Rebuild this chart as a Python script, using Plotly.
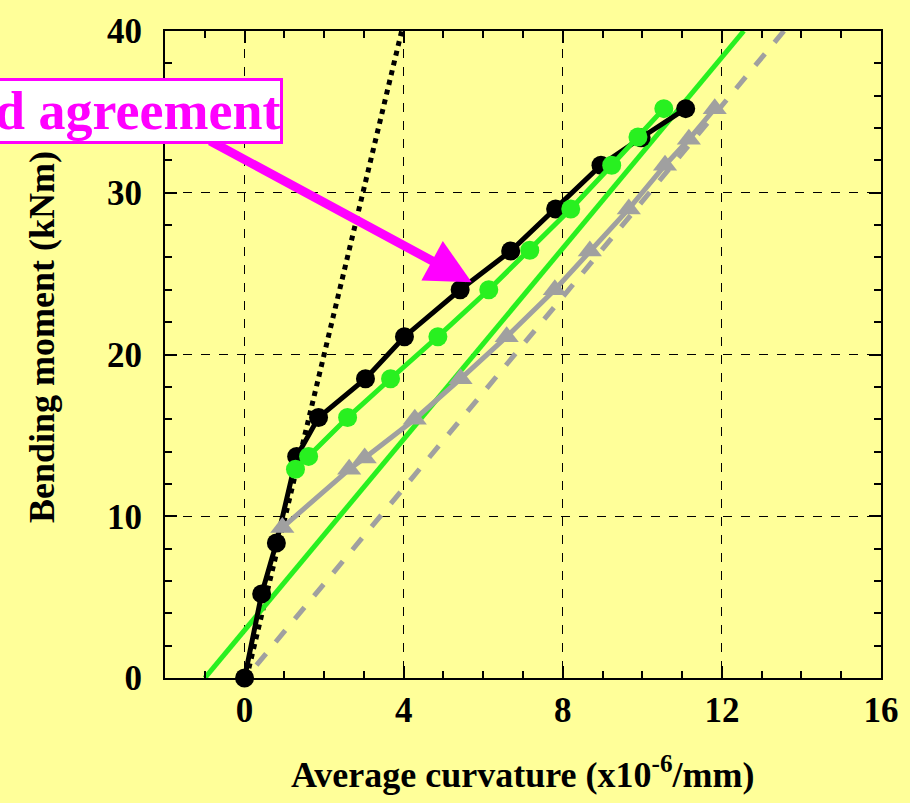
import plotly.graph_objects as go

# Data
black_x = [0, 0.43, 0.8, 1.31, 1.86, 3.04, 4.02, 5.42, 6.69, 7.82, 8.96, 9.97, 11.09]
black_y = [0, 5.2, 8.35, 13.7, 16.1, 18.5, 21.1, 24.0, 26.4, 29.0, 31.7, 33.4, 35.2]

green_x = [1.28, 1.61, 2.59, 3.67, 4.86, 6.14, 7.17, 8.2, 9.23, 9.89, 10.54]
green_y = [12.9, 13.7, 16.1, 18.5, 21.1, 24.0, 26.45, 29.0, 31.7, 33.45, 35.2]

gray_x = [0.95, 2.63, 3.02, 4.28, 5.43, 6.59, 7.8, 8.68, 9.66, 10.57, 11.17, 11.82]
gray_y = [9.3, 12.9, 13.6, 16.0, 18.5, 21.1, 24.0, 26.4, 29.0, 31.7, 33.3, 35.2]

green_fit_x = [-1.0, 12.55]
green_fit_y = [0, 40]
gray_fit_x = [0.3, 13.56]
gray_fit_y = [0.8, 40]
dotted_x = [0.05, 3.95]
dotted_y = [0, 40]

x_ticks = [0, 4, 8, 12, 16]
y_ticks = [0, 10, 20, 30, 40]

BG = "#FFFF99"
GREEN = "#28F020"
GRAY = "#A0A0A0"
FONT = "Liberation Serif"

fig = go.Figure()
fig.add_trace(go.Scatter(x=dotted_x, y=dotted_y, mode="lines",
                         line=dict(color="black", width=5, dash="dot")))
fig.add_trace(go.Scatter(x=green_fit_x, y=green_fit_y, mode="lines",
                         line=dict(color=GREEN, width=5)))
fig.add_trace(go.Scatter(x=gray_fit_x, y=gray_fit_y, mode="lines",
                         line=dict(color=GRAY, width=5, dash="dash")))
fig.add_trace(go.Scatter(x=black_x, y=black_y, mode="lines+markers", cliponaxis=False,
                         line=dict(color="black", width=5),
                         marker=dict(color="black", size=19, symbol="circle")))
fig.add_trace(go.Scatter(x=gray_x, y=gray_y, mode="lines+markers",
                         line=dict(color=GRAY, width=5),
                         marker=dict(color=GRAY, size=21, symbol="triangle-up")))
fig.add_trace(go.Scatter(x=green_x, y=green_y, mode="lines+markers",
                         line=dict(color=GREEN, width=5),
                         marker=dict(color=GREEN, size=19, symbol="circle")))

axis_common = dict(
    showline=True, linecolor="black", linewidth=2, mirror="ticks",
    ticks="inside", ticklen=12, tickcolor="black", tickwidth=1.5,
    showgrid=True, gridcolor="black", gridwidth=1, griddash="dash",
    zeroline=False,
    tickfont=dict(family=FONT, size=35, color="black", weight="bold"),
)

fig.update_xaxes(range=[-2, 16], tickvals=x_ticks, ticktext=[str(v) for v in x_ticks],
                 minor=dict(dtick=1, tick0=0, ticks="inside", ticklen=7, tickcolor="black", showgrid=False),
                 **axis_common)
fig.update_yaxes(range=[0, 40], tickvals=y_ticks, ticktext=[str(v) for v in y_ticks],
                 ticklabelstandoff=14,
                 minor=dict(dtick=2, tick0=0, ticks="inside", ticklen=7, tickcolor="black", showgrid=False),
                 **axis_common)

fig.update_layout(
    width=910, height=803,
    margin=dict(l=165, r=29, t=31, b=125),
    paper_bgcolor=BG, plot_bgcolor=BG,
    showlegend=False,
    font=dict(family=FONT, color="black"),
    annotations=[
        dict(x=5.71, y=24.47, xref="x", yref="y", text="", showarrow=True,
             ax=-263, ay=-142, axref="pixel", ayref="pixel",
             arrowcolor="#FF00FF", arrowwidth=9, arrowhead=2, arrowsize=1.0, standoff=0),
        dict(x=(283 - 165) / 716, y=(678 - 111) / 647, xref="paper", yref="paper",
             xanchor="right", yanchor="middle", showarrow=False,
             text="<b>Good agreement</b>",
             font=dict(family=FONT, size=54, color="#FF00FF"),
             bgcolor="white", bordercolor="#FF00FF", borderwidth=3, borderpad=0),
        dict(x=0.5, y=(678 - 772) / 647, xref="paper", yref="paper",
             xanchor="center", yanchor="middle", showarrow=False,
             text="<b>Average curvature (x10<sup>-6</sup>/mm)</b>",
             font=dict(family=FONT, size=36, color="black")),
        dict(x=(42 - 165) / 716, y=(678 - 337) / 647, xref="paper", yref="paper",
             xanchor="center", yanchor="middle", showarrow=False, textangle=-90,
             text="<b>Bending moment (kNm)</b>",
             font=dict(family=FONT, size=36, color="black")),
    ],
)

fig.write_html("out.html")
